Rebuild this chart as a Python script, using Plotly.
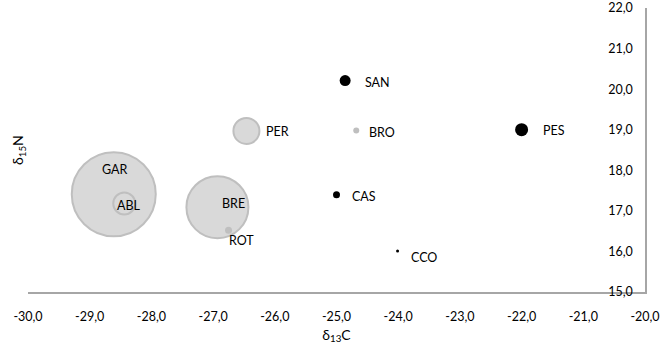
import plotly.graph_objects as go

# Stable isotope values per site
sites = ["GAR", "ABL", "BRE", "ROT", "PER", "SAN", "BRO", "CAS", "CCO", "PES"]
d13c = [-28.61, -28.44, -26.93, -26.75, -26.46, -24.86, -24.68, -25.00, -24.01, -22.00]
d15n = [17.41, 17.18, 17.09, 16.52, 18.97, 20.21, 18.98, 17.40, 16.01, 19.00]
bubble = [84, 22, 62, 7, 26, 11, 6, 7, 3, 13]
group = ["g", "g", "g", "g", "g", "k", "g", "k", "k", "k"]

x_ticks = [-30, -29, -28, -27, -26, -25, -24, -23, -22, -21, -20]
y_ticks = [15, 16, 17, 18, 19, 20, 21, 22]


def fmt(v):
    # one decimal, comma separator, plain hyphen for negatives
    return f"{v:.1f}".replace(".", ",")


# label offsets in pixels (dx, dy) relative to each bubble centre
label_offset = {
    "GAR": (1, 25), "ABL": (5, -2), "BRE": (16, 4), "ROT": (13, -10),
    "PER": (31, -1), "SAN": (32, -2), "BRO": (26, -2), "CAS": (27, -2),
    "CCO": (26, -6), "PES": (32, -1),
}


def marker_style(g, d):
    # grey bubbles get a darker rim; tiny grey dots are drawn solid
    if g == "k":
        return "#000000", "#000000", 0
    if d < 10:
        return "#bfbfbf", "#bfbfbf", 0
    return "#d9d9d9", "#bfbfbf", 2


# larger bubbles are drawn first so the small ones stay visible
order = sorted(range(len(sites)), key=lambda i: -bubble[i])
styles = [marker_style(group[i], bubble[i]) for i in order]

fig = go.Figure(go.Scatter(
    x=[d13c[i] for i in order],
    y=[d15n[i] for i in order],
    mode="markers",
    marker=dict(
        size=[bubble[i] for i in order],
        sizemode="diameter",
        color=[s[0] for s in styles],
        line=dict(color=[s[1] for s in styles], width=[s[2] for s in styles]),
        opacity=1,
    ),
    hoverinfo="skip",
    showlegend=False,
    cliponaxis=False,
))

font_family = "Lato, 'Open Sans', sans-serif"

for s, x, y in zip(sites, d13c, d15n):
    dx, dy = label_offset[s]
    fig.add_annotation(x=x, y=y, text=s, showarrow=False, xshift=dx, yshift=dy,
                       font=dict(family=font_family, size=12.5, color="#000000"))

fig.add_annotation(xref="paper", yref="paper", x=0, y=0.5, xshift=-10,
                   xanchor="center", yanchor="middle",
                   text="δ<sub>15</sub>N", textangle=-90, showarrow=False,
                   font=dict(family=font_family, size=14, color="#000000"))

fig.update_layout(
    width=661, height=356,
    margin=dict(l=28, r=16, t=8, b=64),
    paper_bgcolor="white", plot_bgcolor="white",
    font=dict(family=font_family, size=12.5, color="#000000"),
    xaxis=dict(
        range=[-30, -20], tickvals=x_ticks, ticktext=[fmt(v) for v in x_ticks],
        showgrid=False, zeroline=False, showline=True, automargin=False,
        linecolor="#a6a6a6", linewidth=1.5, ticks="",
        ticklabeloverflow="allow", ticklabelstandoff=12,
        tickfont=dict(color="#000000", size=12.5),
        title=dict(text="δ<sub>13</sub>C", font=dict(size=14), standoff=7),
    ),
    yaxis=dict(
        range=[15, 22], tickvals=y_ticks, ticktext=[fmt(v) for v in y_ticks],
        side="right", ticklabelposition="inside", automargin=False,
        ticklabeloverflow="allow",
        showgrid=False, zeroline=False, showline=True,
        linecolor="#a6a6a6", linewidth=1.5, ticks="",
        ticklabelstandoff=12,
        tickfont=dict(color="#000000", size=12.5),
    ),
)

fig.write_html("out.html")
